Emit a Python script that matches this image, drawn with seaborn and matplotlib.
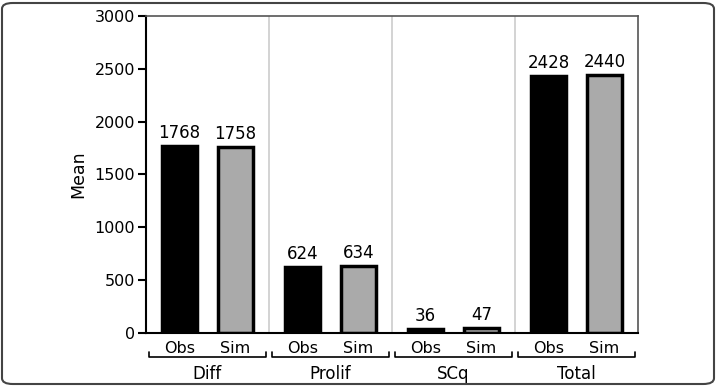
import numpy as np
import pandas as pd
import matplotlib.pyplot as plt
import seaborn as sns
import matplotlib.transforms as mtransforms
from matplotlib.patches import FancyBboxPatch

# === Data ===
groups = ["Diff", "Prolif", "SCq", "Total"]
kinds = ["Obs", "Sim"]
obs_vals = [1768, 624, 36, 2428]
sim_vals = [1758, 634, 47, 2440]
y_ticks = [0, 500, 1000, 1500, 2000, 2500, 3000]

df = pd.DataFrame({
    "group": groups * 2,
    "kind": ["Obs"] * len(groups) + ["Sim"] * len(groups),
    "mean": obs_vals + sim_vals,
})

sns.set_theme(style="white")
plt.rcParams['font.family'] = ['DejaVu Sans']
plt.rcParams['text.color'] = 'black'
plt.rcParams['axes.labelcolor'] = 'black'
plt.rcParams['xtick.color'] = 'black'
plt.rcParams['ytick.color'] = 'black'

W, H = 717, 386
fig = plt.figure(figsize=(W / 100, H / 100), dpi=100)
ax = fig.add_axes([146 / W, 1 - 333 / H, (638 - 146) / W, (333 - 16) / H])

sns.barplot(data=df, x="group", y="mean", hue="kind", hue_order=kinds,
            palette={"Obs": "black", "Sim": "#aaaaaa"},
            width=0.91, gap=0.36, edgecolor="black", linewidth=2.5,
            errorbar=None, legend=False, ax=ax)

for c in ax.containers:
    ax.bar_label(c, fmt="%d", padding=3, fontsize=12, color="black")

ax.set_ylim(0, 3000)
ax.set_yticks(y_ticks)
ax.set_yticklabels([str(v) for v in y_ticks], fontsize=11.5)
ax.tick_params(axis='y', direction='out', length=6, width=1.5, color='black', pad=2, left=True)
ax.set_ylabel("Mean", fontsize=12.5, labelpad=5)
ax.set_xlim(-0.5, len(groups) - 0.5)

# sub tick labels Obs / Sim
off = 0.2275
xt, xl = [], []
for i in range(len(groups)):
    xt += [i - off, i + off]
    xl += kinds
ax.set_xticks(xt)
ax.set_xticklabels(xl, fontsize=11.5)
ax.tick_params(axis='x', length=0, pad=6)
ax.set_xlabel("")

# group separators
for i in range(len(groups) - 1):
    ax.axvline(i + 0.5, color="#cccccc", linewidth=1.2, zorder=0)

# spines
for s in ["left", "bottom"]:
    ax.spines[s].set_color("black")
    ax.spines[s].set_linewidth(1.5)
for s in ["top", "right"]:
    ax.spines[s].set_color("#555555")
    ax.spines[s].set_linewidth(1.2)

# brackets and group labels
trans = mtransforms.blended_transform_factory(ax.transData, ax.transAxes)
for i, g in enumerate(groups):
    x0, x1 = i - 0.475, i + 0.475
    ax.plot([x0, x0, x1, x1], [-0.060, -0.076, -0.076, -0.060], color="black",
            linewidth=1.2, transform=trans, clip_on=False)
    ax.text(i, -0.13, g, ha="center", va="center", fontsize=12, transform=trans)

# outer rounded frame
frame = FancyBboxPatch((2 / W, 2 / H), 1 - 5 / W, 1 - 5 / H,
                       boxstyle="round,pad=0,rounding_size=0.015",
                       transform=fig.transFigure, facecolor="none",
                       edgecolor="#444444", linewidth=1.5)
fig.patches.append(frame)

fig.savefig("out.png", dpi=100)
